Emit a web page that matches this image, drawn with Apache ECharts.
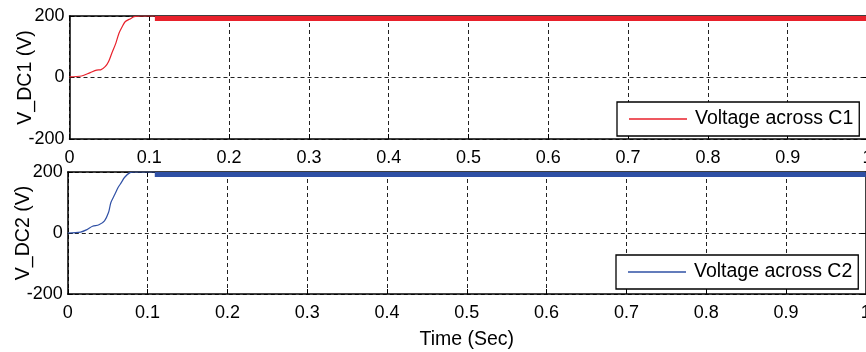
<!DOCTYPE html>
<html>
<head>
<meta charset="utf-8">
<script src="https://cdn.jsdelivr.net/npm/echarts@6/dist/echarts.min.js"></script>
<style>
html,body{margin:0;padding:0;background:#fff;}
#c{width:866px;height:352px;}
</style>
</head>
<body>
<div id="c"></div>
<script>
// ---- data ----
var xTicks = [0, 0.1, 0.2, 0.3, 0.4, 0.5, 0.6, 0.7, 0.8, 0.9, 1];
var yTicks = [-200, 0, 200];

var rampT1 = [0, 0.015, 0.026, 0.034, 0.039, 0.045, 0.049, 0.053, 0.058, 0.062, 0.066, 0.070, 0.077, 0.081, 0.090, 0.107];
var rampV1 = [2, 5, 16, 24, 25, 36, 52, 79, 111, 144, 165, 182, 192, 198, 200, 200];
var rippleT1 = [0.107, 1];
var rippleV1 = [192, 192];

var rampT2 = [0, 0.016, 0.024, 0.031, 0.039, 0.046, 0.051, 0.054, 0.059, 0.063, 0.067, 0.071, 0.078, 0.084, 0.095, 0.109];
var rampV2 = [0, 3, 11, 22, 27, 40, 67, 100, 127, 149, 165, 182, 198, 200, 200, 200];
var rippleT2 = [0.109, 1];
var rippleV2 = [192, 192];

var name1 = 'Voltage across C1';
var name2 = 'Voltage across C2';
var red = '#e8212b';
var blue = '#2f50a5';

function pairs(t, v) { return t.map(function (x, i) { return [x, v[i]]; }); }

var FONT = 'Liberation Sans, Arial, sans-serif';
var lab = { color: '#000', fontSize: 18, fontFamily: FONT };
var nameLab = { color: '#000', fontSize: 19.5, fontFamily: FONT };
var axisLine = { show: true, onZero: false, lineStyle: { color: '#000', width: 1.5 } };
var tick = { show: true, inside: true, length: 5, lineStyle: { color: '#000', width: 1 } };
var split = { show: true, lineStyle: { color: '#222', type: [4, 3], width: 1 } };

function xAx(grid, bottom, showLabel, name) {
  return {
    type: 'value', gridIndex: grid, min: 0, max: 1, interval: 0.1,
    position: bottom ? 'bottom' : 'top',
    axisLine: axisLine, axisTick: tick,
    splitLine: bottom ? split : { show: false },
    axisLabel: showLabel ? Object.assign({ margin: 10, formatter: function (v) { return String(+v.toFixed(1)); } }, lab) : { show: false },
    name: name || '', nameLocation: 'middle', nameGap: 36, nameMoveOverlap: false,
    nameTextStyle: nameLab
  };
}
function yAx(grid, left, name) {
  return {
    type: 'value', gridIndex: grid, min: -200, max: 200, interval: 200,
    position: left ? 'left' : 'right',
    axisLine: axisLine, axisTick: tick,
    splitLine: left ? split : { show: false },
    axisLabel: left ? Object.assign({ margin: 5 }, lab) : { show: false },
    name: name || '', nameLocation: 'middle', nameGap: 34, nameRotate: 90, nameMoveOverlap: false,
    nameTextStyle: nameLab
  };
}

var legendBase = {
  orient: 'horizontal', icon: 'rect',
  backgroundColor: '#fff', borderColor: '#000', borderWidth: 1.3,
  padding: [7, 6, 7, 12], itemWidth: 58, itemHeight: 1.4,
  textStyle: Object.assign({ padding: [0, 0, 0, 3] }, nameLab)
};

var chart = echarts.init(document.getElementById('c'), null, { renderer: 'canvas' });
chart.setOption({
  animation: false,
  backgroundColor: '#fff',
  textStyle: { fontFamily: FONT },
  grid: [
    { left: 69.5, top: 16, width: 798, height: 123, containLabel: false, outerBoundsMode: 'none' },
    { left: 67.8, top: 172, width: 798, height: 122, containLabel: false, outerBoundsMode: 'none' }
  ],
  xAxis: [
    xAx(0, true, true), xAx(0, false, false),
    xAx(1, true, true, 'Time (Sec)'), xAx(1, false, false)
  ],
  yAxis: [
    yAx(0, true, 'V_DC1 (V)'), yAx(0, false),
    yAx(1, true, 'V_DC2 (V)'), yAx(1, false)
  ],
  legend: [
    Object.assign({ data: [name1], left: 617, top: 102 }, legendBase),
    Object.assign({ data: [name2], left: 616, top: 255 }, legendBase)
  ],
  series: [
    { name: name1, type: 'line', xAxisIndex: 0, yAxisIndex: 0, data: pairs(rampT1, rampV1),
      showSymbol: false, symbol: 'none', smooth: 0.3, lineStyle: { color: red, width: 1.2 }, itemStyle: { color: red } },
    { name: 'ripple1', type: 'line', xAxisIndex: 0, yAxisIndex: 0, data: pairs(rippleT1, rippleV1),
      showSymbol: false, symbol: 'none', lineStyle: { color: red, width: 5 } },
    { name: name2, type: 'line', xAxisIndex: 2, yAxisIndex: 2, data: pairs(rampT2, rampV2),
      showSymbol: false, symbol: 'none', smooth: 0.3, lineStyle: { color: blue, width: 1.2 }, itemStyle: { color: blue } },
    { name: 'ripple2', type: 'line', xAxisIndex: 2, yAxisIndex: 2, data: pairs(rippleT2, rippleV2),
      showSymbol: false, symbol: 'none', lineStyle: { color: blue, width: 5 } }
  ]
});
</script>
</body>
</html>
